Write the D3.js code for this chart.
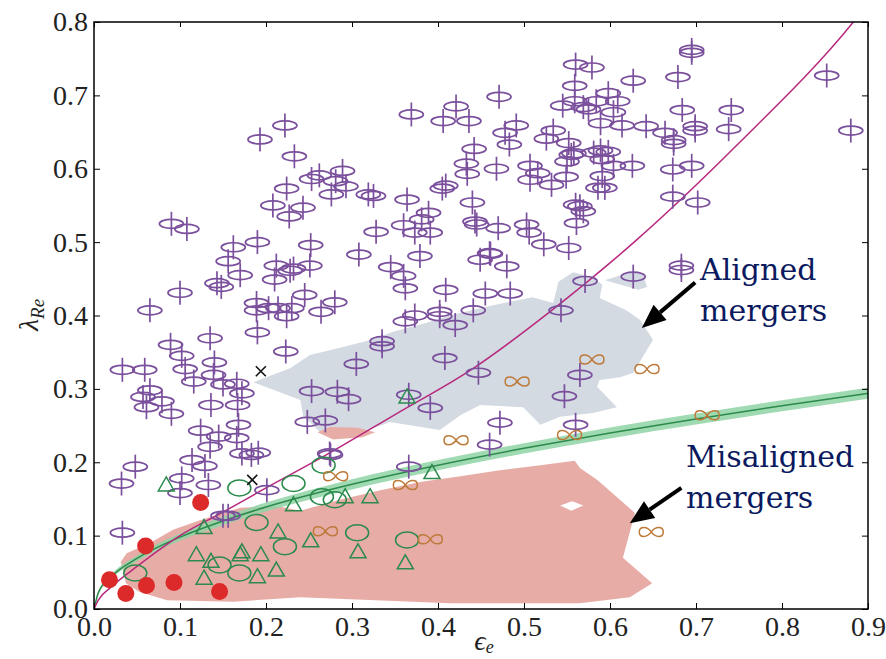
<!DOCTYPE html>
<html>
<head>
<meta charset="utf-8">
<script src="https://cdn.jsdelivr.net/npm/d3@7"></script>
<style>
  body { margin: 0; background: #fff; }
  svg { display: block; }
</style>
</head>
<body>
<div id="chart"></div>
<script>
// axis ticks
var xTicks = [0, 0.1, 0.2, 0.3, 0.4, 0.5, 0.6, 0.7, 0.8, 0.9];
var yTicks = [0, 0.1, 0.2, 0.3, 0.4, 0.5, 0.6, 0.7, 0.8];

// fast rotators (purple ellipse + bar)
var fastRot = [
  [0.695,0.762],[0.695,0.758],[0.852,0.727],[0.880,0.652],[0.679,0.725],[0.560,0.742],[0.579,0.738],
  [0.627,0.720],[0.559,0.713],[0.471,0.698],[0.421,0.685],[0.369,0.674],[0.406,0.665],[0.436,0.665],
  [0.684,0.680],[0.741,0.680],[0.738,0.654],[0.699,0.658],[0.699,0.652],
  [0.559,0.692],[0.569,0.684],[0.584,0.692],[0.598,0.703],[0.609,0.692],[0.545,0.686],[0.575,0.681],
  [0.604,0.677],[0.589,0.662],[0.614,0.659],[0.642,0.658],[0.664,0.649],[0.674,0.639],[0.674,0.634],
  [0.478,0.649],[0.491,0.659],[0.534,0.652],[0.526,0.641],[0.552,0.635],[0.483,0.633],[0.442,0.627],
  [0.433,0.607],[0.434,0.593],[0.468,0.600],[0.507,0.604],[0.516,0.594],[0.507,0.585],[0.532,0.578],
  [0.549,0.589],[0.550,0.610],[0.555,0.619],[0.558,0.621],[0.581,0.622],[0.589,0.625],[0.598,0.623],
  [0.591,0.613],[0.604,0.604],[0.626,0.604],[0.591,0.590],[0.586,0.574],[0.594,0.574],[0.673,0.599],
  [0.695,0.604],[0.673,0.562],[0.702,0.554],
  [0.560,0.551],[0.565,0.549],[0.569,0.542],[0.561,0.526],[0.552,0.492],[0.523,0.497],[0.506,0.513],
  [0.503,0.524],[0.470,0.519],[0.443,0.528],[0.445,0.524],[0.440,0.554],[0.460,0.485],[0.405,0.573],
  [0.409,0.577],[0.364,0.558],[0.389,0.540],[0.381,0.531],[0.360,0.523],[0.391,0.513],[0.373,0.513],
  [0.379,0.481],
  [0.222,0.659],[0.193,0.640],[0.233,0.617],[0.289,0.597],[0.262,0.591],[0.253,0.586],[0.281,0.583],
  [0.293,0.576],[0.224,0.573],[0.276,0.565],[0.319,0.565],[0.325,0.563],[0.208,0.550],[0.243,0.547],
  [0.227,0.535],[0.090,0.525],[0.108,0.518],[0.328,0.514],[0.190,0.500],[0.162,0.493],[0.252,0.496],
  [0.308,0.483],[0.156,0.474],[0.212,0.468],[0.251,0.468],[0.228,0.461],[0.232,0.464],[0.170,0.455],
  [0.210,0.449],[0.143,0.444],[0.148,0.439],[0.100,0.431],[0.345,0.466],[0.065,0.407],[0.189,0.417],
  [0.189,0.407],[0.214,0.410],[0.230,0.410],[0.245,0.428],[0.280,0.418],[0.264,0.405],[0.224,0.399],
  [0.203,0.410],
  [0.449,0.476],[0.461,0.484],[0.480,0.467],[0.360,0.454],[0.362,0.437],[0.409,0.435],[0.455,0.430],
  [0.484,0.430],[0.571,0.447],[0.627,0.453],[0.373,0.400],[0.402,0.405],[0.402,0.399],[0.420,0.387],
  [0.441,0.407],[0.362,0.392],[0.543,0.407],[0.408,0.342],[0.447,0.322],[0.565,0.319],[0.547,0.290],
  [0.366,0.292],[0.391,0.274],[0.472,0.254],[0.560,0.251],[0.274,0.212],[0.460,0.224],[0.683,0.468],
  [0.683,0.462],
  [0.190,0.377],[0.135,0.369],[0.089,0.360],[0.102,0.345],[0.223,0.351],[0.140,0.336],[0.106,0.327],
  [0.033,0.326],[0.059,0.326],[0.139,0.319],[0.116,0.310],[0.150,0.306],[0.166,0.307],[0.065,0.298],
  [0.172,0.294],[0.057,0.289],[0.079,0.283],[0.061,0.275],[0.136,0.278],[0.167,0.278],[0.090,0.266],
  [0.168,0.251],[0.124,0.243],[0.145,0.235],[0.166,0.233],[0.135,0.221],[0.172,0.212],[0.183,0.210],
  [0.191,0.213],[0.114,0.203],[0.129,0.195],[0.048,0.194],[0.102,0.178],[0.133,0.169],[0.032,0.171],
  [0.253,0.297],[0.283,0.296],[0.296,0.286],[0.305,0.334],[0.335,0.365],[0.335,0.358],[0.248,0.255],
  [0.269,0.257],[0.275,0.210],
  [0.033,0.104],[0.100,0.158],[0.201,0.162],[0.150,0.127],[0.156,0.127],[0.366,0.194]
];

// slow rotators: triangles, green ellipses
var slowTri = [
  [0.084,0.169],[0.128,0.111],[0.119,0.074],[0.136,0.065],[0.128,0.042],[0.172,0.078],[0.170,0.074],
  [0.194,0.074],[0.190,0.044],[0.212,0.053],[0.214,0.105],[0.232,0.142],[0.252,0.093],[0.292,0.153],
  [0.321,0.153],[0.307,0.078],[0.364,0.289],[0.393,0.186],[0.362,0.063]
];
var slowEll = [
  [0.048,0.049],[0.146,0.060],[0.169,0.049],[0.169,0.165],[0.189,0.118],[0.222,0.085],[0.232,0.171],
  [0.265,0.153],[0.280,0.149],[0.267,0.196],[0.306,0.104],[0.364,0.094]
];
// double sigma (infinity sign)
var twoSigma = [
  [0.579,0.340],[0.643,0.327],[0.492,0.310],[0.421,0.230],[0.553,0.237],[0.713,0.264],[0.362,0.169],
  [0.269,0.106],[0.391,0.095],[0.648,0.105],[0.281,0.181]
];
// red dots
var roundSR = [
  [0.018,0.040],[0.037,0.021],[0.060,0.086],[0.061,0.032],[0.093,0.036],[0.124,0.145],[0.146,0.024]
];
// crosses
var crosses = [[0.194,0.324],[0.184,0.176]];

var magentaCurve = [
  [0,0],[0.005,0.012],[0.02,0.03],[0.05,0.058],[0.1,0.1],[0.15,0.132],[0.2,0.165],[0.267,0.208],
  [0.35,0.265],[0.441,0.328],[0.53,0.405],[0.631,0.503],[0.75,0.635],[0.883,0.8],[0.9,0.825]
];
var greenLine = [
  [0,0],[0.005,0.022],[0.02,0.044],[0.05,0.069],[0.1,0.098],[0.15,0.12],[0.2,0.139],[0.3,0.17],
  [0.4,0.196],[0.5,0.219],[0.6,0.24],[0.7,0.259],[0.8,0.277],[0.9,0.294]
];
var greenBandHalf = [0,0.002,0.003,0.004,0.005,0.006,0.006,0.007,0.007,0.007,0.0075,0.0075,0.0075,0.0075];

// merger regions
var alignedRegion = [
  [0.185,0.309],[0.228,0.328],[0.251,0.346],[0.286,0.356],[0.323,0.367],[0.348,0.378],[0.387,0.390],
  [0.417,0.401],[0.464,0.414],[0.510,0.425],[0.534,0.417],[0.540,0.446],[0.557,0.459],[0.580,0.452],
  [0.591,0.442],[0.588,0.424],[0.619,0.407],[0.635,0.394],[0.650,0.367],[0.627,0.322],[0.612,0.316],
  [0.588,0.312],[0.585,0.303],[0.608,0.275],[0.580,0.267],[0.542,0.262],[0.519,0.251],[0.499,0.275],
  [0.449,0.278],[0.426,0.264],[0.402,0.244],[0.344,0.255],[0.306,0.238],[0.263,0.241],[0.243,0.264],
  [0.240,0.285]
];
var alignedLobe = [[0.594,0.448],[0.623,0.459],[0.638,0.458],[0.643,0.439],[0.633,0.435]];
var misalignedRegion = [
  [0.031,0.064],[0.038,0.076],[0.065,0.090],[0.092,0.108],[0.123,0.121],[0.170,0.138],[0.213,0.140],
  [0.240,0.134],[0.286,0.149],[0.333,0.162],[0.379,0.173],[0.426,0.181],[0.472,0.189],[0.519,0.196],
  [0.559,0.202],[0.565,0.192],[0.585,0.176],[0.629,0.131],[0.615,0.070],[0.649,0.035],[0.623,0.016],
  [0.565,0.008],[0.414,0.008],[0.240,0.016],[0.162,0.010],[0.085,0.012],[0.053,0.023],[0.037,0.035],
  [0.034,0.053]
];
var misalignedHole = [[0.542,0.141],[0.556,0.147],[0.569,0.141],[0.555,0.134]];
var misalignedPatch = [[0.260,0.241],[0.274,0.248],[0.307,0.247],[0.327,0.241],[0.312,0.234],[0.278,0.231]];

// annotation arrows [tail, tip]
var arrows = [
  [[0.699,0.445],[0.637,0.383]],
  [[0.683,0.165],[0.623,0.117]]
];

var W = 886, H = 659;
var svg = d3.select("#chart").append("svg").attr("width", W).attr("height", H);

var x = d3.scaleLinear().domain([0, 0.9]).range([94, 868]);
var y = d3.scaleLinear().domain([0, 0.8]).range([609, 22]);

svg.append("defs").append("clipPath").attr("id", "clip")
  .append("rect").attr("x", 94).attr("y", 22).attr("width", 774).attr("height", 587);

var plot = svg.append("g").attr("clip-path", "url(#clip)");
var poly = function(pts){ return "M" + pts.map(function(p){ return x(p[0]) + "," + y(p[1]); }).join("L") + "Z"; };

// regions
plot.append("path").attr("d", poly(misalignedRegion)).attr("fill", "#e8aca7");
plot.append("path").attr("d", poly(misalignedHole)).attr("fill", "#fff");
plot.append("path").attr("d", poly(alignedRegion)).attr("fill", "#d3dae2");
plot.append("path").attr("d", poly(alignedLobe)).attr("fill", "#d3dae2");
plot.append("path").attr("d", poly(misalignedPatch)).attr("fill", "#e8aca7");

// green band + line
var band = d3.area().curve(d3.curveMonotoneX)
  .x(function(d){ return x(d[0]); })
  .y0(function(d, i){ return y(d[1] - greenBandHalf[i]); })
  .y1(function(d, i){ return y(d[1] + greenBandHalf[i]); });
plot.append("path").attr("d", band(greenLine)).attr("fill", "#8fd3a5").attr("opacity", 0.85);
var line = d3.line().curve(d3.curveMonotoneX)
  .x(function(d){ return x(d[0]); }).y(function(d){ return y(d[1]); });
plot.append("path").attr("d", line(greenLine)).attr("fill", "none").attr("stroke", "#2b8a4c").attr("stroke-width", 1.5);
plot.append("path").attr("d", line(magentaCurve)).attr("fill", "none").attr("stroke", "#b8287e").attr("stroke-width", 1.5);

// markers
var purple = "#7a4f9c", green = "#2b8a4c", orange = "#bd7a3a";
var fr = plot.append("g").selectAll("g").data(fastRot).enter().append("g")
  .attr("transform", function(d){ return "translate(" + x(d[0]) + "," + y(d[1]) + ")"; });
fr.append("ellipse").attr("rx", 12).attr("ry", 4.5).attr("fill", "none").attr("stroke", purple).attr("stroke-width", 1.7);
fr.append("line").attr("y1", -12).attr("y2", 12).attr("stroke", purple).attr("stroke-width", 1.7);

plot.append("g").selectAll("path").data(slowTri).enter().append("path")
  .attr("d", "M0,-8L8,6L-8,6Z")
  .attr("transform", function(d){ return "translate(" + x(d[0]) + "," + y(d[1]) + ")"; })
  .attr("fill", "none").attr("stroke", green).attr("stroke-width", 1.5);

plot.append("g").selectAll("ellipse").data(slowEll).enter().append("ellipse")
  .attr("cx", function(d){ return x(d[0]); }).attr("cy", function(d){ return y(d[1]); })
  .attr("rx", 11.5).attr("ry", 8).attr("fill", "none").attr("stroke", green).attr("stroke-width", 1.5);

plot.append("g").selectAll("path").data(twoSigma).enter().append("path")
  .attr("d", "M0,0C-4,-6 -12,-6 -12,0C-12,6 -4,6 0,0C4,-6 12,-6 12,0C12,6 4,6 0,0Z")
  .attr("transform", function(d){ return "translate(" + x(d[0]) + "," + y(d[1]) + ")"; })
  .attr("fill", "none").attr("stroke", orange).attr("stroke-width", 1.5);

plot.append("g").selectAll("circle").data(roundSR).enter().append("circle")
  .attr("cx", function(d){ return x(d[0]); }).attr("cy", function(d){ return y(d[1]); })
  .attr("r", 8.5).attr("fill", "#dc2a2a");

plot.append("g").selectAll("path").data(crosses).enter().append("path")
  .attr("d", "M-5,-5L5,5M-5,5L5,-5")
  .attr("transform", function(d){ return "translate(" + x(d[0]) + "," + y(d[1]) + ")"; })
  .attr("stroke", "#111").attr("stroke-width", 1.6);

// arrows
arrows.forEach(function(a){
  var x0 = x(a[0][0]), y0 = y(a[0][1]), x1 = x(a[1][0]), y1 = y(a[1][1]);
  var ang = Math.atan2(y1 - y0, x1 - x0), L = 24, hw = 10;
  var bx = x1 - L * Math.cos(ang), by = y1 - L * Math.sin(ang);
  svg.append("line").attr("x1", x0).attr("y1", y0).attr("x2", bx).attr("y2", by)
    .attr("stroke", "#000").attr("stroke-width", 4);
  svg.append("path").attr("d", "M" + x1 + "," + y1 +
      "L" + (bx + hw * Math.sin(ang)) + "," + (by - hw * Math.cos(ang)) +
      "L" + (bx - hw * Math.sin(ang)) + "," + (by + hw * Math.cos(ang)) + "Z")
    .attr("fill", "#000");
});

// annotation text
var note = svg.append("g").attr("font-family", "DejaVu Serif").attr("font-size", 30).attr("fill", "#0b1a5e");
note.append("text").attr("x", 700).attr("y", 280).text("Aligned");
note.append("text").attr("x", 700).attr("y", 321).text("mergers");
note.append("text").attr("x", 686).attr("y", 467).text("Misaligned");
note.append("text").attr("x", 686).attr("y", 508).text("mergers");

// axes
var fmt = d3.format(".1f");
var styleAxis = function(g){
  g.select(".domain").remove();
  g.selectAll("line").attr("stroke", "#000").attr("stroke-width", 1);
  g.selectAll("text").attr("font-family", "Liberation Serif").attr("font-size", 28).attr("fill", "#222");
};
svg.append("g").attr("transform", "translate(0,609)")
  .call(d3.axisBottom(x).tickValues(xTicks).tickSize(-6).tickPadding(7).tickFormat(fmt)).call(styleAxis);
svg.append("g").attr("transform", "translate(94,0)")
  .call(d3.axisLeft(y).tickValues(yTicks).tickSize(-6).tickPadding(6).tickFormat(fmt)).call(styleAxis);
svg.append("g").attr("transform", "translate(0,22)")
  .call(d3.axisTop(x).tickValues(xTicks).tickSize(-5).tickFormat("")).call(styleAxis);
svg.append("g").attr("transform", "translate(868,0)")
  .call(d3.axisRight(y).tickValues(yTicks).tickSize(-6).tickFormat("")).call(styleAxis);

svg.append("rect").attr("x", 94).attr("y", 22).attr("width", 774).attr("height", 587)
  .attr("fill", "none").attr("stroke", "#000").attr("stroke-width", 1.5);

// axis labels
var yl = svg.append("text").attr("transform", "translate(38,315) rotate(-90)")
  .attr("text-anchor", "middle").attr("font-family", "Liberation Serif").attr("font-style", "italic")
  .attr("font-size", 28).attr("fill", "#222");
yl.append("tspan").text("λ");
yl.append("tspan").attr("font-size", 19).attr("dy", 6).text("Re");

var xl = svg.append("text").attr("x", 484).attr("y", 650)
  .attr("text-anchor", "middle").attr("font-family", "Liberation Serif").attr("font-style", "italic")
  .attr("font-size", 28).attr("fill", "#222");
xl.append("tspan").text("ϵ");
xl.append("tspan").attr("font-size", 18).attr("dy", 3).text("e");
</script>
</body>
</html>
